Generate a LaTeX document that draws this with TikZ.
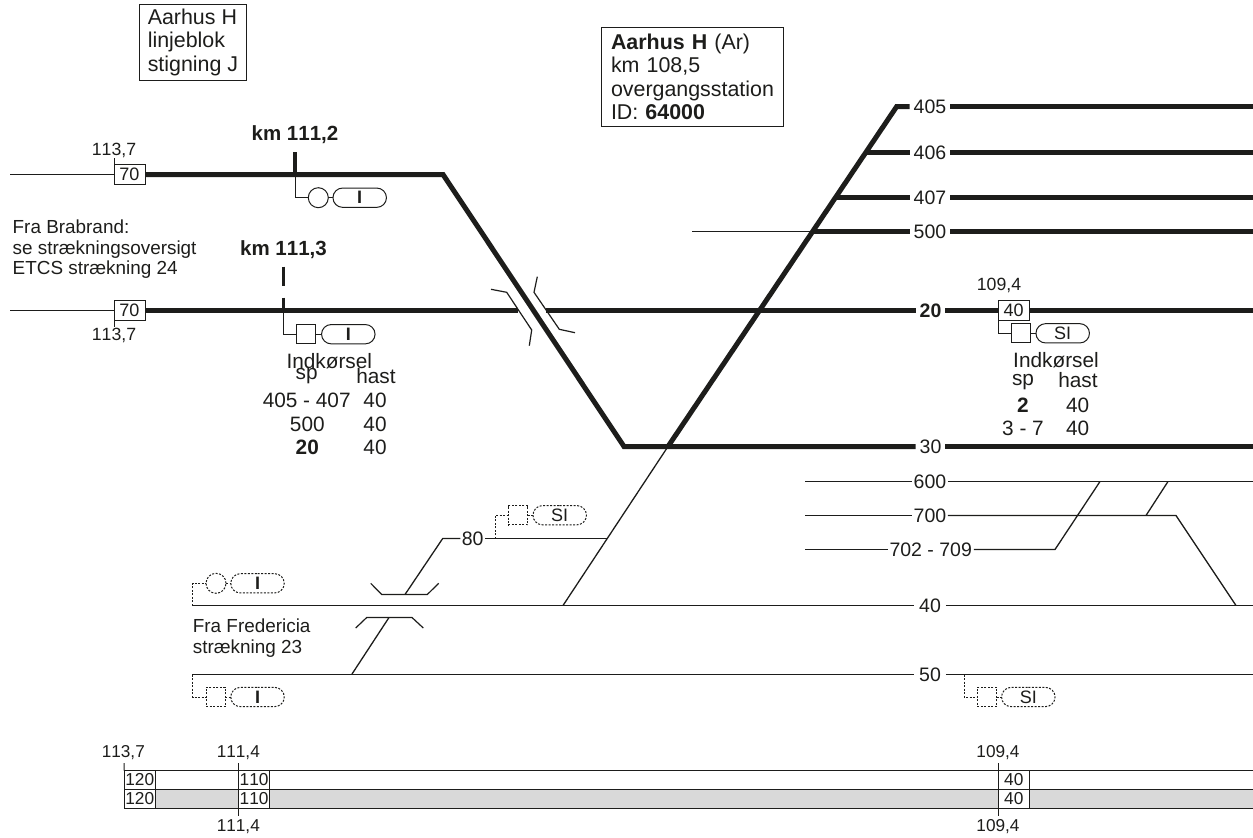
\documentclass[tikz,border=0pt]{standalone}
\usepackage{fontspec}
\setmainfont{Liberation Sans}[Kerning=Off]
\usetikzlibrary{shapes.misc}
\definecolor{ink}{HTML}{1D1D1B}
\definecolor{stripgray}{HTML}{D9D9D9}
\tikzset{
  thintrack/.style={draw=ink,line width=1.3pt},
  thicktrack/.style={draw=ink,line width=5pt},
  bridgeline/.style={draw=ink,line width=1.2pt},
  wire/.style={draw=ink,line width=1pt},
  dashwire/.style={wire,dash pattern=on 2pt off 1.5pt},
  tracklabel/.style={font=\fontsize{19.5}{22}\selectfont,text=ink,inner xsep=#1,inner ysep=0pt,outer sep=0pt},
  tracklabel/.default=4pt,
  kmlabel/.style={font=\fontsize{17.7}{20}\selectfont,text=ink,inner sep=0pt},
  cell/.style={font=\fontsize{20.8}{23}\selectfont,text=ink,inner sep=0pt},
  kmhead/.style={font=\fontsize{20.5}{23}\selectfont\bfseries,text=ink,inner sep=0pt},
  note/.style={font=\fontsize{18.9}{20.5}\selectfont,text=ink,align=left,inner sep=0pt,anchor=west},
  infobox/.style={draw=ink,line width=1pt,anchor=north west,align=left,text=ink,fill=white,
    font=\fontsize{21.4}{23.5}\selectfont,inner xsep=9pt,inner ysep=0pt,outer sep=0pt},
  speedbox/.style={draw=ink,line width=1pt,fill=white,text=ink,font=\fontsize{18}{20}\selectfont,
    minimum width=31pt,minimum height=19.5pt,inner sep=0pt,outer sep=0pt},
  stripcell/.style={speedbox,font=\fontsize{17.3}{19}\selectfont,minimum width=31.5pt,minimum height=19pt},
  lampbox/.style={draw=ink,line width=1pt,fill=white,minimum size=19.3pt,inner sep=0pt,outer sep=0pt},
  lampround/.style={circle,draw=ink,line width=1pt,fill=white,minimum size=20pt,inner sep=0pt,outer sep=0pt},
  pill/.style={rounded rectangle,draw=ink,line width=1pt,fill=white,text=ink,
    font=\fontsize{18}{20}\selectfont,minimum width=53.5pt,minimum height=19.3pt,inner sep=0pt,outer sep=0pt},
}
\begin{document}
\begin{tikzpicture}[x=1pt,y=-1pt]
  \useasboundingbox (0,0) rectangle (1253,838);
  % info boxes
  \node[infobox,inner xsep=0pt,minimum width=107.4pt,minimum height=76pt] (infoblock) at (139.3,4) {Aarhus H\\linjeblok\\stigning J};
  \node[infobox,text width=162pt,inner xsep=10pt,minimum height=98.3pt] (infostation) at (601,27.7)
    {\textbf{Aarhus H} (Ar)\\km 108,5\\overgangsstation\\ID: \textbf{64000}};
  % track labels
  \node[tracklabel] (t405) at (930,106.5) {405};
  \node[tracklabel] (t406) at (930,152.5) {406};
  \node[tracklabel] (t407) at (930,197.5) {407};
  \node[tracklabel] (t500) at (930,231.5) {500};
  \node[tracklabel=4pt,font=\fontsize{19.5}{22}\selectfont\bfseries] (t20) at (930.5,310.5) {20};
  \node[tracklabel=4pt] (t30) at (930.5,446.5) {30};
  \node[tracklabel=1.5pt] (t600) at (930,481.5) {600};
  \node[tracklabel=1.5pt] (t700) at (930,515.5) {700};
  \node[tracklabel=2pt] (t702) at (930.7,549.5) {702 - 709};
  \node[tracklabel=5pt] (t40) at (930,605.5) {40};
  \node[tracklabel=5pt] (t50) at (930,674.5) {50};
  \node[tracklabel=1.5pt] (t80) at (472.7,538.5) {80};
  % speed boxes on the tracks
  \node[speedbox] (upspeed) at (129.5,174.5) {70};
  \node[speedbox] (downspeed) at (129.5,310.5) {70};
  \node[speedbox] (stationspeed) at (1013.5,310.5) {40};
  \node[kmlabel] (upkm) at (114,150.7) {113,7};
  \node[kmlabel] (downkm) at (114,335) {113,7};
  \node[kmlabel] (stationkm) at (999,285) {109,4};
  \draw[wire] (114,158) -- (upspeed.north west);
  \draw[wire] (downspeed.south west) -- (114,327);
  % main tracks
  \draw[thintrack] (10,174.5) -- (upspeed);
  \draw[thintrack] (10,310.5) -- (downspeed);
  \draw[thicktrack] (upspeed.east) -- (443,174.5) -- (624,446.5) -- (t30.west);
  \draw[thicktrack] (t30.east) -- (1253,446.5);
  \draw[thicktrack] (downspeed.east) -- (518,310.5);
  \draw[thicktrack] (546,310.5) -- (t20.west);
  \draw[thicktrack] (t20.east) -- (stationspeed.west);
  \draw[thicktrack] (stationspeed.east) -- (1253,310.5);
  % fan of station tracks
  \draw[thicktrack] (668,446.5) -- (896.7,106.5) -- (t405.west);
  \draw[thicktrack] (866,152.5) -- (t406.west);
  \draw[thicktrack] (836,197.5) -- (t407.west);
  \draw[thicktrack] (813,231.5) -- (t500.west);
  \draw[thintrack] (692,231.5) -- (813,231.5);
  \draw[thicktrack] (t405.east) -- (1253,106.5);
  \draw[thicktrack] (t406.east) -- (1253,152.5);
  \draw[thicktrack] (t407.east) -- (1253,197.5);
  \draw[thicktrack] (t500.east) -- (1253,231.5);
  % bridge over track 20
  \draw[bridgeline] (491,289.3) -- (506.7,292.3) -- (531.7,330) -- (529.3,345.7);
  \draw[bridgeline] (537.3,276.7) -- (534,292.3) -- (559.3,329.3) -- (575,332.7);
  % thin tracks
  \draw[thintrack] (668,446.5) -- (563,605.5);
  \draw[thintrack] (192,605.5) -- (t40.west);
  \draw[thintrack] (t40.east) -- (1253,605.5);
  \draw[thintrack] (192,674.5) -- (t50.west);
  \draw[thintrack] (t50.east) -- (1253,674.5);
  \draw[thintrack] (405,594.5) -- (442.7,538.5) -- (t80.west);
  \draw[thintrack] (t80.east) -- (608,538.5);
  \draw[thintrack] (351.7,674.5) -- (389,617.5);
  \draw[bridgeline] (370.7,583.3) -- (381.7,594.5) -- (427.3,594.5) -- (438.7,583.3);
  \draw[bridgeline] (355.7,628) -- (366.7,617.5) -- (412,617.5) -- (423.3,628);
  % goods tracks
  \draw[thintrack] (805,481.5) -- (t600.west);
  \draw[thintrack] (t600.east) -- (1253,481.5);
  \draw[thintrack] (805,515.5) -- (t700.west);
  \draw[thintrack] (t700.east) -- (1176,515.5) -- (1236,605.5);
  \draw[thintrack] (805,549.5) -- (t702.west);
  \draw[thintrack] (t702.east) -- (1055,549.5) -- (1100,481.5);
  \draw[thintrack] (1146,515.5) -- (1168,481.5);
  % signals km 111,2 and km 111,3
  \node[kmhead] (headA) at (295,135) {km 111,2};
  \node[kmhead] (headB) at (283.5,250) {km 111,3};
  \draw[ink,line width=3.5pt] (295,152) -- (295,174.5);
  \draw[ink,line width=3.5pt] (283.5,266.7) -- (283.5,285.7);
  \draw[ink,line width=3.5pt] (283.5,297.7) -- (283.5,310.5);
  \node[lampround] (lampA) at (318.3,197.7) {};
  \node[pill] (pillA) at (359.7,197.7) {\textbf{I}};
  \draw[wire] (295,174.5) |- (lampA);
  \draw[wire] (lampA) -- (pillA);
  \node[lampbox] (lampB) at (306.3,334.2) {};
  \node[pill] (pillB) at (348.3,334.2) {\textbf{I}};
  \draw[wire] (283.5,310.5) |- (lampB);
  \draw[wire] (lampB) -- (pillB);
  % signal at km 109,4
  \node[lampbox] (lampC) at (1021.2,333.3) {};
  \node[pill] (pillC) at (1062.7,333.3) {SI};
  \draw[wire] (stationspeed.south west) |- (lampC);
  \draw[wire] (lampC) -- (pillC);
  % dashed signals
  \node[lampbox,dashwire] (lampD) at (518,515.2) {};
  \node[pill,dashwire] (pillD) at (559.7,515.2) {SI};
  \draw[dashwire] (495,538.5) |- (lampD);
  \draw[dashwire] (lampD) -- (pillD);
  \node[lampround,dashwire] (lampE) at (216,583.3) {};
  \node[pill,dashwire] (pillE) at (257.5,583.3) {\textbf{I}};
  \draw[dashwire] (192.5,605.5) |- (lampE);
  \draw[dashwire] (lampE) -- (pillE);
  \node[lampbox,dashwire] (lampF) at (215.7,697) {};
  \node[pill,dashwire] (pillF) at (257.5,697) {\textbf{I}};
  \draw[dashwire] (192.5,674.5) |- (lampF);
  \draw[dashwire] (lampF) -- (pillF);
  \node[lampbox,dashwire] (lampG) at (987,697) {};
  \node[pill,dashwire] (pillG) at (1028.3,697) {SI};
  \draw[dashwire] (964,674.5) |- (lampG);
  \draw[dashwire] (lampG) -- (pillG);
  % notes
  \node[note] (noteBrabrand) at (12.5,249.5) {Fra Brabrand:\\se strækningsoversigt\\ETCS strækning 24};
  \node[note] (noteFredericia) at (192.7,638) {Fra Fredericia\\strækning 23};
  % entry table, left
  \node[cell] (inA) at (329.3,361) {Indkørsel};
  \node[cell] (spA) at (306.7,376.5) {sp};
  \node[cell] (hastA) at (376,376) {hast};
  \node[cell] (rowA) at (306.7,400) {405 - 407};
  \node[cell] (speedA) at (375,400) {40};
  \node[cell] (rowB) at (307.3,424) {500};
  \node[cell] (speedB) at (375,424) {40};
  \node[cell,font=\fontsize{20.8}{23}\selectfont\bfseries] (rowC) at (307.3,447.3) {20};
  \node[cell] (speedC) at (375,447.3) {40};
  % entry table, right
  \node[cell] (inB) at (1056,360.5) {Indkørsel};
  \node[cell] (spB) at (1023,382.5) {sp};
  \node[cell] (hastB) at (1078,380) {hast};
  \node[cell,font=\fontsize{20.8}{23}\selectfont\bfseries] (rowD) at (1023,405) {2};
  \node[cell] (speedD) at (1077.7,405) {40};
  \node[cell] (rowE) at (1023,428) {3 - 7};
  \node[cell] (speedE) at (1077.7,428) {40};
  % speed strip
  \draw[draw=ink,line width=1pt,fill=stripgray] (124,789.5) rectangle (1253,808.5);
  \draw[draw=ink,line width=1pt,fill=white] (124,770.5) rectangle (1253,789.5);
  \node[stripcell] (stripA) at (139.8,780) {120};
  \node[stripcell] (stripB) at (139.8,799) {120};
  \node[stripcell] (stripC) at (254.1,780) {110};
  \node[stripcell] (stripD) at (254.1,799) {110};
  \node[stripcell] (stripE) at (1013.8,780) {40};
  \node[stripcell] (stripF) at (1013.8,799) {40};
  \node[kmlabel,font=\fontsize{17.2}{19}\selectfont] (stripkmA) at (123.3,753) {113,7};
  \node[kmlabel,font=\fontsize{17.2}{19}\selectfont] (stripkmB) at (238.3,753) {111,4};
  \node[kmlabel,font=\fontsize{17.2}{19}\selectfont] (stripkmC) at (998,753) {109,4};
  \node[kmlabel,font=\fontsize{17.2}{19}\selectfont] (stripkmD) at (238.3,827) {111,4};
  \node[kmlabel,font=\fontsize{17.2}{19}\selectfont] (stripkmE) at (998,827) {109,4};
  \draw[wire] (124,763) -- (stripA.north west);
  \draw[wire] (238.3,763) -- (238.3,816);
  \draw[wire] (998,763) -- (998,816);
\end{tikzpicture}
\end{document}
